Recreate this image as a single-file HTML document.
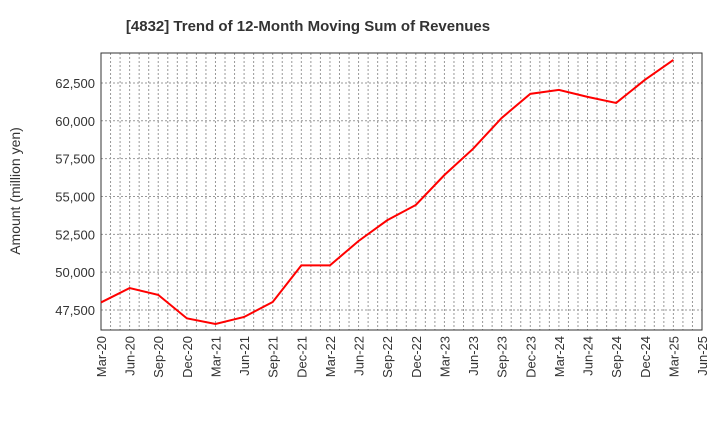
<!DOCTYPE html>
<html><head><meta charset="utf-8"><style>
body{margin:0;background:#fff;font-family:"Liberation Sans",sans-serif}
</style></head><body>
<svg id="c" width="720" height="440" xmlns="http://www.w3.org/2000/svg">
<text x="308" y="31" text-anchor="middle" font-size="15" font-weight="bold" fill="#333">[4832]  Trend of 12-Month Moving Sum of Revenues</text>
<text transform="translate(20,191) rotate(-90)" text-anchor="middle" font-size="14" fill="#333">Amount (million yen)</text>
<g id="grid"></g><g id="axes"></g><g id="series"></g>
</svg>
<script>
const categories=["Mar-20","Jun-20","Sep-20","Dec-20","Mar-21","Jun-21","Sep-21","Dec-21","Mar-22","Jun-22","Sep-22","Dec-22","Mar-23","Jun-23","Sep-23","Dec-23","Mar-24","Jun-24","Sep-24","Dec-24","Mar-25","Jun-25"];
const revenues=[48000,48950,48500,46950,46580,47040,48030,50450,50450,52060,53430,54440,56420,58150,60190,61780,62040,61580,61180,62700,64020];
const yTicks=[47500,50000,52500,55000,57500,60000,62500];
const yTickLabels=["47,500","50,000","52,500","55,000","57,500","60,000","62,500"];
const NS="http://www.w3.org/2000/svg";
const L=101,R=702,T=53,B=330,yMin=46180,yMax=64480;
const xs=i=>L+i*(R-L)/(categories.length-1);
const ys=v=>B-(v-yMin)/(yMax-yMin)*(B-T);
function mk(p,tag,a){const e=document.createElementNS(NS,tag);for(const k in a)e.setAttribute(k,a[k]);p.appendChild(e);return e;}
const g=document.getElementById('grid'),ax=document.getElementById('axes'),s=document.getElementById('series');
for(let m=1;m<(categories.length-1)*3;m++){const x=L+m*(R-L)/((categories.length-1)*3);
const l=mk(g,'line',{x1:x,x2:x,y1:T,y2:B,stroke:'#999','stroke-width':1,'stroke-dasharray':'2,2'});

}
yTicks.forEach((v,i)=>{const y=ys(v);
const l=mk(g,'line',{x1:L,x2:R,y1:y,y2:y,stroke:'#999','stroke-width':1,'stroke-dasharray':'2,2'});


const t=mk(ax,'text',{x:L-6,y:y+5,'text-anchor':'end','font-size':13,fill:'#333'});t.textContent=yTickLabels[i];

});
categories.forEach((c,i)=>{const x=xs(i);
const t=mk(ax,'text',{transform:`translate(${x+5},${B+6}) rotate(-90)`,'text-anchor':'end','font-size':13,fill:'#333'});t.textContent=c;

});
const f=mk(ax,'rect',{x:L,y:T,width:R-L,height:B-T,fill:'none',stroke:'#333','stroke-width':1});


const p=mk(s,'polyline',{points:revenues.map((v,i)=>xs(i)+','+ys(v)).join(' '),fill:'none',stroke:'#f00','stroke-width':2});


</script>
</body></html>
